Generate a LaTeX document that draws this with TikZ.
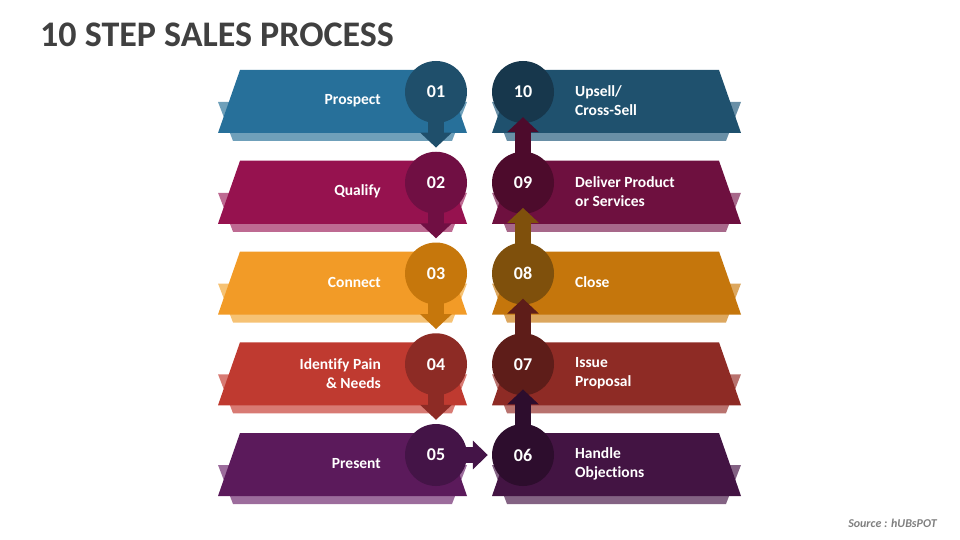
\documentclass[tikz,border=0pt]{standalone}
\usepackage{fontspec}
\setmainfont[Ligatures=NoCommon]{Carlito}
\usetikzlibrary{arrows.meta}

% left column
\definecolor{prospect}{HTML}{27709A}\definecolor{ltprospect}{HTML}{6FA0BA}\definecolor{dkprospect}{HTML}{1F4F6B}
\definecolor{qualify}{HTML}{96124F}\definecolor{ltqualify}{HTML}{BE6A92}\definecolor{dkqualify}{HTML}{700F43}
\definecolor{connect}{HTML}{F29B27}\definecolor{ltconnect}{HTML}{F6C274}\definecolor{dkconnect}{HTML}{C6770C}
\definecolor{identify}{HTML}{BF3A30}\definecolor{ltidentify}{HTML}{D87A73}\definecolor{dkidentify}{HTML}{8D2B25}
\definecolor{present}{HTML}{5B1A5B}\definecolor{ltpresent}{HTML}{9C6C9C}\definecolor{dkpresent}{HTML}{441447}
% right column
\definecolor{upsell}{HTML}{1F516E}\definecolor{ltupsell}{HTML}{698FA6}\definecolor{dkupsell}{HTML}{17374C}
\definecolor{deliver}{HTML}{6E103F}\definecolor{ltdeliver}{HTML}{A7688A}\definecolor{dkdeliver}{HTML}{4D0B2C}
\definecolor{close}{HTML}{C5760C}\definecolor{ltclose}{HTML}{DCA75F}\definecolor{dkclose}{HTML}{7F500C}
\definecolor{issue}{HTML}{8E2B25}\definecolor{ltissue}{HTML}{B8726E}\definecolor{dkissue}{HTML}{5E1D19}
\definecolor{handle}{HTML}{431443}\definecolor{lthandle}{HTML}{836283}\definecolor{dkhandle}{HTML}{2D0D2D}
\definecolor{titlegray}{HTML}{404040}
\definecolor{srcgray}{HTML}{7F7F7F}

\begin{document}
\begin{tikzpicture}[x=1pt,y=-1pt]
\tikzset{disc/.style={circle, minimum size=62pt, inner sep=0pt, text=white, font=\fontsize{18}{18}\selectfont\bfseries},
  lefttext/.style={anchor=east, align=right, inner sep=0pt, text=white, font=\fontsize{15.5}{19}\selectfont\bfseries},
  righttext/.style={anchor=west, align=left, inner sep=0pt, text=white, font=\fontsize{15.5}{19}\selectfont\bfseries},
  flow/.style={line width=16pt, -{Triangle[width=31pt,length=15pt]}},
  flowh/.style={line width=16pt, -{Triangle[width=28pt,length=15pt]}}}
\useasboundingbox (0,0) rectangle (960,540);

\node[anchor=base west, inner sep=0pt, text=titlegray, font=\fontsize{36}{36}\selectfont\bfseries] (title) at (40,47) {10 STEP SALES PROCESS};
\node[anchor=base east, inner sep=0pt, text=srcgray, font=\fontsize{12}{12}\selectfont\bfseries\itshape] (source) at (937,527) {Source : hUBsPOT};

% left banners, steps 01-05
\foreach \i/\col/\txt in {1/prospect/Prospect, 2/qualify/Qualify, 3/connect/Connect,
    4/identify/{Identify Pain\\\& Needs}, 5/present/Present} {
  \pgfmathsetmacro\T{70+90.75*(\i-1)}
  \fill[lt\col] (218,\T+32) -- (467,\T+32) -- (452,\T+71) -- (233,\T+71) -- cycle;
  \fill[\col] (240,\T) -- (445,\T) -- (467,\T+63) -- (218,\T+63) -- cycle;
  \node[lefttext] (l0\i) at (381,\T+31) {\txt};
  \node[disc, fill=dk\col] (c0\i) at (436,\T+22) {0\i};
}

% right banners, steps 10-06
\foreach \i/\n/\col/\txt in {1/10/upsell/{Upsell/\\Cross-Sell}, 2/09/deliver/{Deliver Product\\or Services},
    3/08/close/Close, 4/07/issue/{Issue\\Proposal}, 5/06/handle/{Handle\\Objections}} {
  \pgfmathsetmacro\T{70+90.75*(\i-1)}
  \fill[lt\col] (741,\T+32) -- (492,\T+32) -- (507,\T+71) -- (726,\T+71) -- cycle;
  \fill[\col] (719,\T) -- (514,\T) -- (492,\T+63) -- (741,\T+63) -- cycle;
  \node[righttext] (r\n) at (575,\T+31) {\txt};
  \node[disc, fill=dk\col] (c\n) at (523,\T+22) {\n};
}

% arrows
\foreach \a/\b/\col in {01/02/dkprospect, 02/03/dkqualify, 03/04/dkconnect, 04/05/dkidentify}
  \draw[flow, \col] ([yshift=-13pt]c\a.center) -- ([yshift=4pt]c\b.north);
\draw[flowh, dkpresent] ([xshift=13pt]c05.center) -- ([xshift=-4pt]c06.west);
\foreach \a/\b/\col in {06/07/dkhandle, 07/08/dkissue, 08/09/dkclose, 09/10/dkdeliver}
  \draw[flow, \col] ([yshift=13pt]c\a.center) -- ([yshift=6pt]c\b.south);
\end{tikzpicture}
\end{document}
